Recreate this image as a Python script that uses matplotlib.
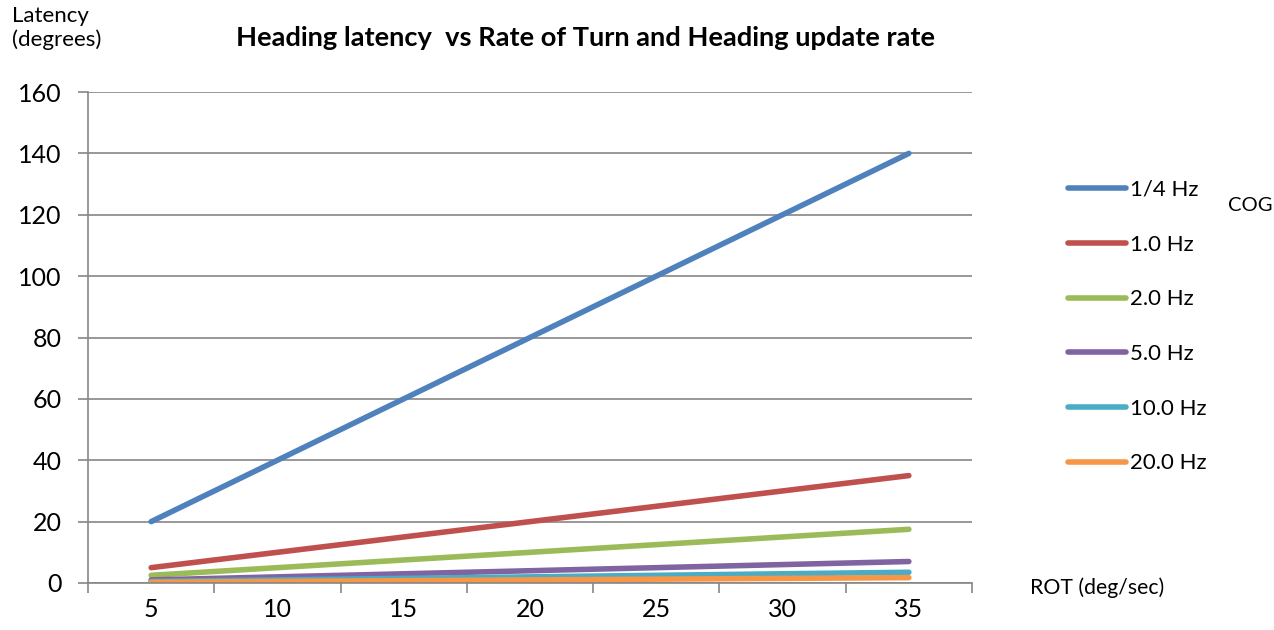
import matplotlib.pyplot as plt
from matplotlib.ticker import FixedLocator

# ROT categories (deg/sec)
rot = [5, 10, 15, 20, 25, 30, 35]

# heading latency (degrees) per update rate
lat_q = [20, 40, 60, 80, 100, 120, 140]
lat_1 = [5, 10, 15, 20, 25, 30, 35]
lat_2 = [2.5, 5, 7.5, 10, 12.5, 15, 17.5]
lat_5 = [1, 2, 3, 4, 5, 6, 7]
lat_10 = [0.5, 1, 1.5, 2, 2.5, 3, 3.5]
lat_20 = [0.25, 0.5, 0.75, 1, 1.25, 1.5, 1.75]

labels = ['1/4 Hz', '1.0 Hz', '2.0 Hz', '5.0 Hz', '10.0 Hz', '20.0 Hz']
colors = ['#4F81BD', '#C0504D', '#9BBB59', '#8064A2', '#4BACC6', '#F79646']
yticks = [0, 20, 40, 60, 80, 100, 120, 140, 160]

plt.rcParams['font.family'] = ['Lato', 'DejaVu Sans']

fig = plt.figure(figsize=(12.74, 6.3), dpi=100)
ax = fig.add_axes([88 / 1274, 47 / 630, 884 / 1274, 491 / 630])

pos = list(range(len(rot)))
for ys, lab, c in zip([lat_q, lat_1, lat_2, lat_5, lat_10, lat_20], labels, colors):
    ax.plot(pos, ys, color=c, lw=4, label=lab, solid_capstyle='round')

ax.set_xlim(-0.5, len(rot) - 0.5)
ax.set_ylim(0, 160)
ax.set_yticks(yticks)
ax.set_xticks(pos)
ax.set_xticklabels([str(r) for r in rot])
ax.xaxis.set_minor_locator(FixedLocator([p - 0.5 for p in range(len(rot) + 1)]))
ax.tick_params(axis='x', which='major', length=0, pad=11, labelsize=18)
ax.tick_params(axis='x', which='minor', length=7, color='#868686', width=1.2)
ax.tick_params(axis='y', length=7, color='#868686', width=1.2, labelsize=18, pad=12)

ax.grid(axis='y', color='#868686', lw=1.2)
ax.set_axisbelow(True)
for s in ['top', 'right']:
    ax.spines[s].set_visible(False)
for s in ['left', 'bottom']:
    ax.spines[s].set_color('#868686')
    ax.spines[s].set_linewidth(1.2)

fig.text(585 / 1274, 1 - 38 / 630, 'Heading latency  vs Rate of Turn and Heading update rate',
         ha='center', va='center', fontsize=19.6, fontweight='bold')
fig.text(12 / 1274, 1 - 28 / 630, 'Latency\n(degrees)', ha='left', va='center',
         fontsize=16, linespacing=1.2)
fig.text(1030 / 1274, 1 - 588 / 630, 'ROT (deg/sec)', ha='left', va='center', fontsize=15.3)
fig.text(1228 / 1274, 1 - 206 / 630, 'COG', ha='left', va='center', fontsize=14.5)

fig.legend(loc='upper left', bbox_to_anchor=(1068 / 1274, 1 - 180 / 630), frameon=False,
           fontsize=16, handlelength=2.6, handletextpad=0.2, labelspacing=1.56,
           borderaxespad=0, borderpad=0)

fig.savefig('out.png', dpi=100)
